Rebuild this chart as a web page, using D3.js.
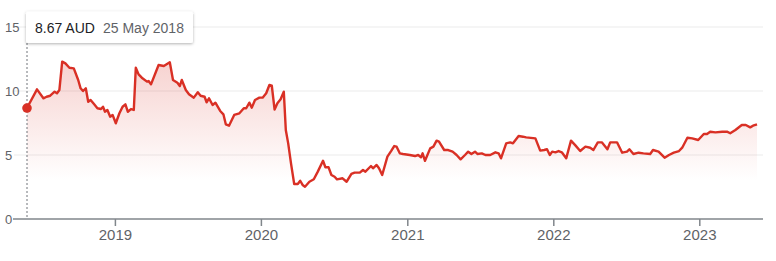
<!DOCTYPE html>
<html>
  <head>
    <meta charset="UTF-8" />
    <style>
      html,
      body {
        margin: 0;
        padding: 0;
        background: #fff;
      }
      svg {
        display: block;
        font-family: "Liberation Sans", Arial, sans-serif;
      }
    </style>
  </head>
  <body>
    <svg></svg>

    <script src="https://d3js.org/d3.v7.min.js"></script>

    <script>
      let width = 776,
        height = 261;

      // Price history (AUD)
      const dates = [
        "2018-05-25", "2018-06-19", "2018-07-05", "2018-07-13", "2018-07-22", "2018-08-02",
        "2018-08-08", "2018-08-14", "2018-08-21", "2018-08-29", "2018-09-08", "2018-09-19",
        "2018-09-30", "2018-10-06", "2018-10-12", "2018-10-19", "2018-10-25", "2018-10-31",
        "2018-11-09", "2018-11-17", "2018-11-26", "2018-12-01", "2018-12-06", "2018-12-12",
        "2018-12-19", "2018-12-25", "2019-01-02", "2019-01-11", "2019-01-19", "2019-01-26",
        "2019-02-01", "2019-02-09", "2019-02-16", "2019-02-21", "2019-02-28", "2019-03-08",
        "2019-03-21", "2019-03-25", "2019-03-31", "2019-04-19", "2019-05-02", "2019-05-17",
        "2019-05-25", "2019-06-05", "2019-06-11", "2019-06-16", "2019-06-26", "2019-07-04",
        "2019-07-16", "2019-07-26", "2019-08-02", "2019-08-12", "2019-08-17", "2019-08-23",
        "2019-09-01", "2019-09-08", "2019-09-20", "2019-09-28", "2019-10-04", "2019-10-12",
        "2019-10-25", "2019-11-07", "2019-11-18", "2019-11-24", "2019-12-02", "2019-12-08",
        "2019-12-16", "2019-12-27", "2020-01-04", "2020-01-13", "2020-01-21", "2020-01-27",
        "2020-02-03", "2020-02-10", "2020-02-18", "2020-02-26", "2020-03-02", "2020-03-08",
        "2020-03-15", "2020-03-23", "2020-04-01", "2020-04-07", "2020-04-13", "2020-04-19",
        "2020-04-30", "2020-05-11", "2020-05-21", "2020-06-03", "2020-06-09", "2020-06-17",
        "2020-06-24", "2020-07-02", "2020-07-08", "2020-07-22", "2020-08-01", "2020-08-13",
        "2020-08-21", "2020-09-03", "2020-09-11", "2020-09-17", "2020-10-01", "2020-10-06",
        "2020-10-15", "2020-10-21", "2020-10-29", "2020-11-11", "2020-11-21", "2020-11-28",
        "2020-12-04", "2020-12-12", "2020-12-20", "2021-01-06", "2021-01-19", "2021-01-27",
        "2021-02-03", "2021-02-07", "2021-02-13", "2021-02-26", "2021-03-06", "2021-03-14",
        "2021-03-20", "2021-04-02", "2021-04-12", "2021-04-23", "2021-05-03", "2021-05-13",
        "2021-05-24", "2021-06-01", "2021-06-09", "2021-06-18", "2021-06-24", "2021-07-05",
        "2021-07-14", "2021-07-26", "2021-08-08", "2021-08-16", "2021-08-22", "2021-09-04",
        "2021-09-14", "2021-09-21", "2021-10-05", "2021-10-16", "2021-10-24", "2021-11-16",
        "2021-11-28", "2021-12-08", "2021-12-15", "2021-12-22", "2021-12-28", "2022-01-05",
        "2022-01-13", "2022-01-21", "2022-02-01", "2022-02-13", "2022-02-24", "2022-03-08",
        "2022-03-21", "2022-04-02", "2022-04-10", "2022-04-21", "2022-05-01", "2022-05-15",
        "2022-05-22", "2022-06-08", "2022-06-21", "2022-07-03", "2022-07-09", "2022-07-19",
        "2022-08-01", "2022-08-13", "2022-08-30", "2022-09-06", "2022-09-20", "2022-10-05",
        "2022-10-16", "2022-10-28", "2022-11-10", "2022-11-18", "2022-12-01", "2022-12-13",
        "2022-12-28", "2023-01-11", "2023-01-19", "2023-01-27", "2023-02-09", "2023-02-26",
        "2023-03-10", "2023-03-18", "2023-03-31", "2023-04-16", "2023-04-26", "2023-05-07",
        "2023-05-14", "2023-05-24",
      ];

      const prices = [
        8.67, 10.13, 9.43, 9.55, 9.63, 9.95,
        9.82, 10.08, 12.29, 12.16, 11.82, 11.77,
        10.86, 10.21, 10.0, 10.21, 9.16, 9.3,
        8.96, 8.65, 8.59, 8.77, 8.38, 8.52,
        7.99, 8.13, 7.48, 8.26, 8.77, 8.96,
        8.38, 8.59, 8.52, 11.82, 11.3, 11.04,
        10.73, 10.78, 10.52, 12.03, 11.95, 12.24,
        10.86, 10.65, 10.39, 10.86, 10.08, 9.74,
        9.48, 9.9, 9.63, 9.55, 9.12, 9.43,
        8.91, 9.09, 8.44, 8.18, 7.4, 7.29,
        8.13, 8.26, 8.65, 8.65, 9.09, 8.7,
        9.3, 9.48, 9.48, 9.82, 10.47, 10.41,
        8.55, 9.04, 9.35, 9.95, 6.95, 5.91,
        4.35, 2.73, 2.73, 2.99, 2.66, 2.52,
        2.91, 3.1, 3.7, 4.55, 4.04, 4.04,
        3.44, 3.3, 3.1, 3.18, 2.91, 3.52,
        3.62, 3.62, 3.83, 3.7, 4.14, 3.96,
        4.22, 3.96, 3.44, 4.87, 5.34, 5.7,
        5.65, 5.13, 5.08, 5.0, 4.92, 5.0,
        4.82, 5.13, 4.55, 5.52, 5.65, 6.12,
        6.04, 5.39, 5.39, 5.26, 5.0, 4.66,
        5.0, 5.26, 5.08, 5.26, 5.08, 5.13,
        5.0, 5.0, 5.21, 5.13, 4.74, 5.91,
        5.99, 5.91, 6.48, 6.43, 6.38, 6.3,
        5.34, 5.39, 5.45, 5.0, 5.26, 5.21,
        5.31, 5.21, 4.74, 6.12, 5.75, 5.31,
        5.65, 5.57, 5.39, 5.99, 5.99, 5.45,
        5.99, 5.99, 5.18, 5.26, 5.45, 5.08,
        5.18, 5.13, 5.08, 5.39, 5.26, 4.79,
        5.0, 5.18, 5.31, 5.57, 6.35, 6.3,
        6.17, 6.64, 6.64, 6.82, 6.77, 6.82,
        6.82, 6.7, 6.95, 7.34, 7.34, 7.16,
        7.29, 7.4,
      ];

      const yTicks = [0, 5, 10, 15];
      const xTicks = ["2019-01-01", "2020-01-01", "2021-01-01", "2022-01-01", "2023-01-01"];
      const currency = "AUD";

      const parseDate = d3.timeParse("%Y-%m-%d");
      const data = dates.map((d, i) => ({ date: parseDate(d), value: prices[i] }));

      let svg = d3
        .select("svg")
        .attr("width", width)
        .attr("height", height)
        .attr("viewBox", "0 0 " + width + " " + height);

      let x = d3
        .scaleTime()
        .domain(d3.extent(data, (d) => d.date))
        .range([27, 757]);

      let y = d3.scaleLinear().domain([0, 15]).range([219, 27]);

      let red = "#d93025";

      // gradient fill under the line
      let defs = svg.append("defs");
      let grad = defs
        .append("linearGradient")
        .attr("id", "fade")
        .attr("gradientUnits", "userSpaceOnUse")
        .attr("x1", 0)
        .attr("x2", 0)
        .attr("y1", y(12.5))
        .attr("y2", y(3));
      grad.append("stop").attr("offset", "0%").attr("stop-color", red).attr("stop-opacity", 0.22);
      grad.append("stop").attr("offset", "100%").attr("stop-color", red).attr("stop-opacity", 0);

      let shadow = defs
        .append("filter")
        .attr("id", "shadow")
        .attr("x", "-20%")
        .attr("y", "-40%")
        .attr("width", "140%")
        .attr("height", "200%");
      shadow
        .append("feDropShadow")
        .attr("dx", 0)
        .attr("dy", 1)
        .attr("stdDeviation", 1.5)
        .attr("flood-color", "#000")
        .attr("flood-opacity", 0.3);

      // gridlines
      svg
        .append("g")
        .selectAll("line")
        .data(yTicks.filter((t) => t > 0))
        .enter()
        .append("line")
        .attr("x1", 14)
        .attr("x2", 763)
        .attr("y1", (d) => y(d))
        .attr("y2", (d) => y(d))
        .attr("stroke", "#ebebeb")
        .attr("stroke-width", 1);

      // y labels
      svg
        .append("g")
        .selectAll("text")
        .data(yTicks)
        .enter()
        .append("text")
        .attr("x", 5)
        .attr("y", (d) => y(d))
        .attr("dy", "0.35em")
        .attr("font-size", 13)
        .attr("fill", "#5f6368")
        .text((d) => d);

      // area + line
      let area = d3
        .area()
        .x((d) => x(d.date))
        .y0(y(0))
        .y1((d) => y(d.value));

      let line = d3
        .line()
        .x((d) => x(d.date))
        .y((d) => y(d.value));

      svg.append("path").datum(data).attr("d", area).attr("fill", "url(#fade)");

      // baseline axis
      svg
        .append("line")
        .attr("x1", 13)
        .attr("x2", 763)
        .attr("y1", y(0))
        .attr("y2", y(0))
        .attr("stroke", "#80868b")
        .attr("stroke-width", 1.5);

      let xt = svg
        .append("g")
        .selectAll("g")
        .data(xTicks.map(parseDate))
        .enter()
        .append("g")
        .attr("transform", (d) => "translate(" + x(d) + "," + y(0) + ")");
      xt.append("line").attr("y1", 0).attr("y2", 7).attr("stroke", "#80868b").attr("stroke-width", 1.5);
      xt.append("text")
        .attr("y", 21)
        .attr("text-anchor", "middle")
        .attr("font-size", 15)
        .attr("fill", "#5f6368")
        .text((d) => d3.timeFormat("%Y")(d));

      // hover marker on first point
      let first = data[0];
      svg
        .append("line")
        .attr("x1", x(first.date))
        .attr("x2", x(first.date))
        .attr("y1", 43)
        .attr("y2", y(0))
        .attr("stroke", "#70757a")
        .attr("stroke-width", 1)
        .attr("stroke-dasharray", "2,2");

      svg
        .append("path")
        .datum(data)
        .attr("d", line)
        .attr("fill", "none")
        .attr("stroke", red)
        .attr("stroke-width", 2.4)
        .attr("stroke-linejoin", "round");

      svg
        .append("circle")
        .attr("cx", x(first.date))
        .attr("cy", y(first.value))
        .attr("r", 4.8)
        .attr("fill", red);

      // tooltip
      let tip = svg.append("g").attr("transform", "translate(26,11.5)");
      tip
        .append("rect")
        .attr("width", 167)
        .attr("height", 31.5)
        .attr("rx", 2)
        .attr("fill", "#fff")
        .attr("filter", "url(#shadow)");
      tip
        .append("text")
        .attr("x", 9)
        .attr("y", 21)
        .attr("font-size", 14)
        .attr("fill", "#202124")
        .text(d3.format(".2f")(first.value) + " " + currency);
      tip
        .append("text")
        .attr("x", 77)
        .attr("y", 21)
        .attr("font-size", 14)
        .attr("fill", "#5f6368")
        .text(d3.timeFormat("%-d %B %Y")(first.date));
    </script>
  </body>
</html>
